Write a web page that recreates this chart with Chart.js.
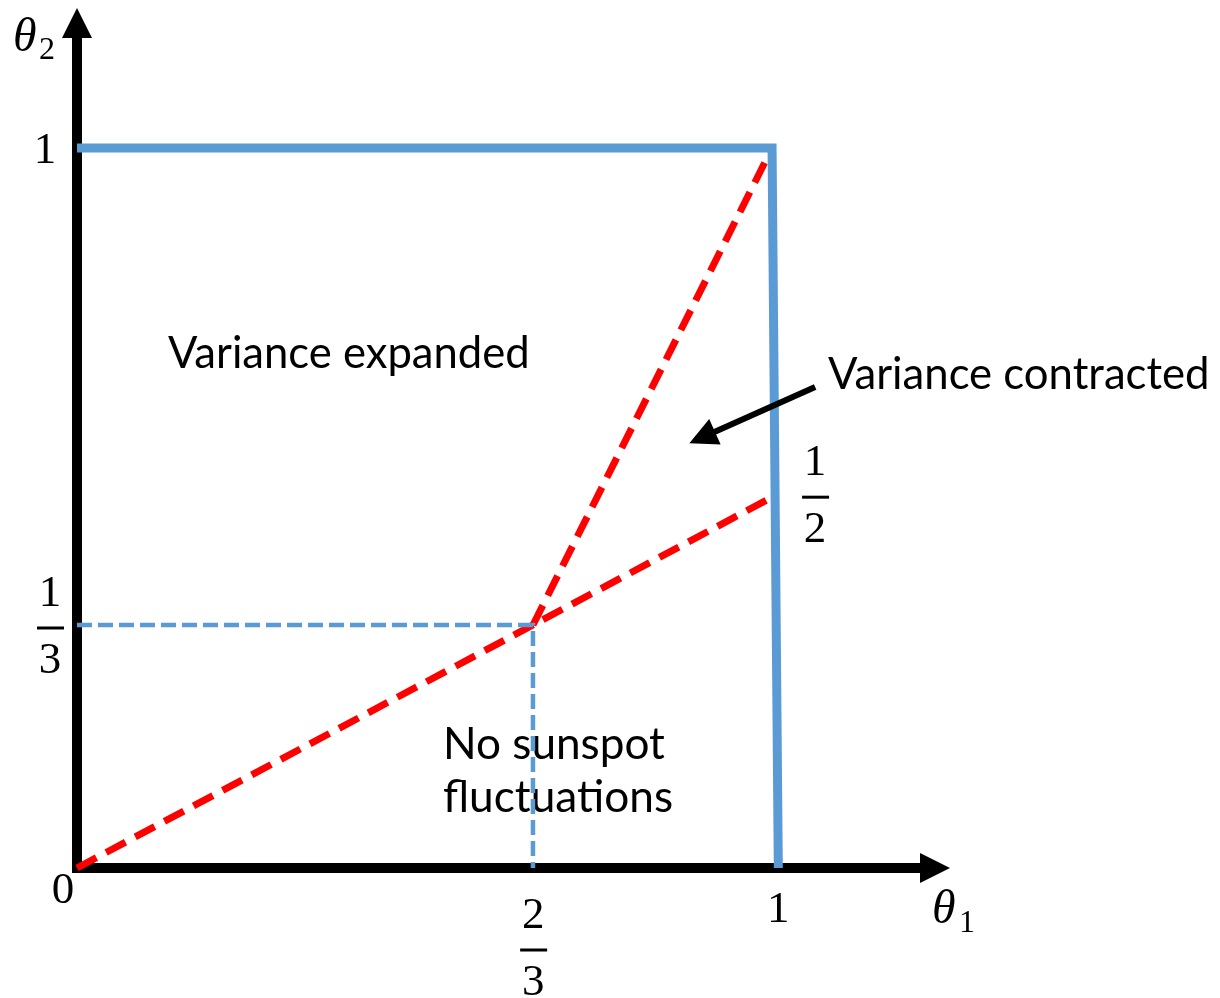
<!DOCTYPE html>
<html>
<head>
<meta charset="utf-8">
<script src="https://cdn.jsdelivr.net/npm/chart.js@4"></script>
<style>
  html, body { margin: 0; padding: 0; background: #fff; }
  #wrap { width: 1220px; height: 998px; position: relative; }
</style>
</head>
<body>
<div id="wrap"><canvas id="regionChart"></canvas></div>
<script>
// boundary of the unit square (theta1, theta2)
const boundaryX = [0, 1, 1.009];
const boundaryY = [1, 1, 0];

// red dashed threshold lines
const lowLineX = [0, 0.656, 1];
const lowLineY = [0, 0.3375, 0.515];
const steepLineX = [0.656, 1];
const steepLineY = [0.3375, 1];

// blue dashed guides to the kink
const guideX = [0, 0.656, 0.656];
const guideY = [0.3375, 0.3375, 0];

// tick labels
const xTickValues = [0.662, 1.009];
const xTickLabels = [['2', '3'], ['1']];
const yTickValues = [1, 0.3375];
const yTickLabels = [['1'], ['1', '3']];
const halfMark = { x: 1, y: 0.515, label: ['1', '2'] };

const regionTexts = ['Variance expanded', 'Variance contracted', 'No sunspot', 'fluctuations'];

function toPoints(xs, ys) {
    return xs.map((x, i) => ({ x: x, y: ys[i] }));
}

const BLUE = '#5B9BD5';
const RED = '#FF0000';
const MATH_FONT = '"Liberation Serif", "DejaVu Serif", serif';
const TEXT_FONT = 'Lato, "Open Sans", sans-serif';

function fitFont(ctx, text, width) {
    ctx.font = '100px ' + TEXT_FONT;
    const w = ctx.measureText(text).width;
    return (100 * width / w).toFixed(1) + 'px ' + TEXT_FONT;
}

function drawLabel(ctx, parts, cx, anchorY) {
    ctx.fillStyle = '#000';
    ctx.textAlign = 'center';
    ctx.textBaseline = 'alphabetic';
    ctx.font = '45px ' + MATH_FONT;
    if (parts.length === 1) {
        ctx.fillText(parts[0], cx, anchorY);
        return;
    }
    // stacked fraction, anchorY is the bar
    ctx.fillText(parts[0], cx, anchorY - 22);
    ctx.fillText(parts[1], cx, anchorY + 45);
    ctx.fillRect(cx - 13, anchorY - 1.5, 27, 3);
}

function arrowHead(ctx, tipX, tipY, fromX, fromY, len, half) {
    const a = Math.atan2(tipY - fromY, tipX - fromX);
    ctx.beginPath();
    ctx.moveTo(tipX, tipY);
    ctx.lineTo(tipX - len * Math.cos(a) + half * Math.sin(a), tipY - len * Math.sin(a) - half * Math.cos(a));
    ctx.lineTo(tipX - len * Math.cos(a) - half * Math.sin(a), tipY - len * Math.sin(a) + half * Math.cos(a));
    ctx.closePath();
    ctx.fill();
}

const axesPlugin = {
    id: 'axesPlugin',
    beforeDatasetsDraw(chart) {
        const ctx = chart.ctx;
        const xs = chart.scales.x, ys = chart.scales.y;
        const area = chart.chartArea;
        const ox = xs.getPixelForValue(0), oy = ys.getPixelForValue(0);
        ctx.save();
        ctx.fillStyle = '#000';
        ctx.strokeStyle = '#000';
        ctx.lineWidth = 10;
        ctx.lineCap = 'butt';
        // y axis
        ctx.beginPath();
        ctx.moveTo(ox, oy + 5);
        ctx.lineTo(ox, area.top + 25);
        ctx.stroke();
        arrowHead(ctx, ox, area.top, ox, oy, 30, 15);
        // x axis
        ctx.beginPath();
        ctx.moveTo(ox - 5, oy);
        ctx.lineTo(area.right - 25, oy);
        ctx.stroke();
        arrowHead(ctx, area.right, oy, ox, oy, 30, 15);

        // region texts
        ctx.fillStyle = '#000';
        ctx.textAlign = 'left';
        ctx.textBaseline = 'alphabetic';
        ctx.font = fitFont(ctx, regionTexts[0], 362);
        ctx.fillText(regionTexts[0], xs.getPixelForValue(0.131), ys.getPixelForValue(0.694));
        ctx.font = fitFont(ctx, regionTexts[1], 382);
        ctx.fillText(regionTexts[1], xs.getPixelForValue(1.0806), ys.getPixelForValue(0.665));
        ctx.font = fitFont(ctx, regionTexts[2], 222);
        ctx.fillText(regionTexts[2], xs.getPixelForValue(0.5266), ys.getPixelForValue(0.1514));
        ctx.font = fitFont(ctx, regionTexts[3], 230);
        ctx.fillText(regionTexts[3], xs.getPixelForValue(0.5266), ys.getPixelForValue(0.0778));
        ctx.restore();
    },
    afterDatasetsDraw(chart) {
        const ctx = chart.ctx;
        const xs = chart.scales.x, ys = chart.scales.y;
        const ox = xs.getPixelForValue(0), oy = ys.getPixelForValue(0);
        ctx.save();

        // tick labels
        xTickValues.forEach((v, i) => {
            const cx = xs.getPixelForValue(v) + (i === 0 ? -4 : 0);
            drawLabel(ctx, xTickLabels[i], cx, xTickLabels[i].length > 1 ? oy + 82 : oy + 54);
        });
        yTickValues.forEach((v, i) => {
            const py = ys.getPixelForValue(v);
            drawLabel(ctx, yTickLabels[i], yTickLabels[i].length > 1 ? ox - 27 : ox - 32, yTickLabels[i].length > 1 ? py + 3 : py + 15);
        });
        drawLabel(ctx, halfMark.label, xs.getPixelForValue(halfMark.x) + 43, ys.getPixelForValue(halfMark.y));
        drawLabel(ctx, ['0'], ox - 14, oy + 35);

        // axis names
        ctx.textAlign = 'left';
        ctx.font = 'italic 48px ' + MATH_FONT;
        ctx.fillText('\u03B8', 13, 51);
        ctx.fillText('\u03B8', 932, oy + 55);
        ctx.font = '32px ' + MATH_FONT;
        ctx.fillText('2', 39, 59);
        ctx.fillText('1', 959, oy + 64);

        // pointer arrow to the contracted region
        const tx = xs.getPixelForValue(1.062), ty = ys.getPixelForValue(0.668);
        const hx = xs.getPixelForValue(0.881), hy = ys.getPixelForValue(0.590);
        ctx.strokeStyle = '#000';
        ctx.fillStyle = '#000';
        ctx.lineWidth = 6;
        const a = Math.atan2(hy - ty, hx - tx);
        ctx.beginPath();
        ctx.moveTo(tx, ty);
        ctx.lineTo(hx - 20 * Math.cos(a), hy - 20 * Math.sin(a));
        ctx.stroke();
        arrowHead(ctx, hx, hy, tx, ty, 28, 14);
        ctx.restore();
    }
};

new Chart(document.getElementById('regionChart'), {
    type: 'scatter',
    data: {
        datasets: [
            {
                label: 'guides',
                data: toPoints(guideX, guideY),
                showLine: true,
                borderColor: BLUE,
                borderWidth: 4.5,
                borderDash: [15, 6],
                pointRadius: 0,
                clip: false
            },
            {
                label: 'boundary',
                data: toPoints(boundaryX, boundaryY),
                showLine: true,
                borderColor: BLUE,
                borderWidth: 9,
                borderJoinStyle: 'miter',
                pointRadius: 0,
                clip: false
            },
            {
                label: 'low',
                data: toPoints(lowLineX, lowLineY),
                showLine: true,
                borderColor: RED,
                borderWidth: 7,
                borderDash: [22, 11],
                pointRadius: 0,
                clip: false
            },
            {
                label: 'steep',
                data: toPoints(steepLineX, steepLineY),
                showLine: true,
                borderColor: RED,
                borderWidth: 7,
                borderDash: [22, 11],
                pointRadius: 0,
                clip: false
            }
        ]
    },
    options: {
        responsive: true,
        maintainAspectRatio: false,
        animation: false,
        layout: { padding: { left: 77, right: 270, top: 8, bottom: 130 } },
        scales: {
            x: { type: 'linear', min: 0, max: 1.256, display: false },
            y: { type: 'linear', min: 0, max: 1.1944, display: false }
        },
        plugins: {
            legend: { display: false },
            tooltip: { enabled: false }
        }
    },
    plugins: [axesPlugin]
});
</script>
</body>
</html>
